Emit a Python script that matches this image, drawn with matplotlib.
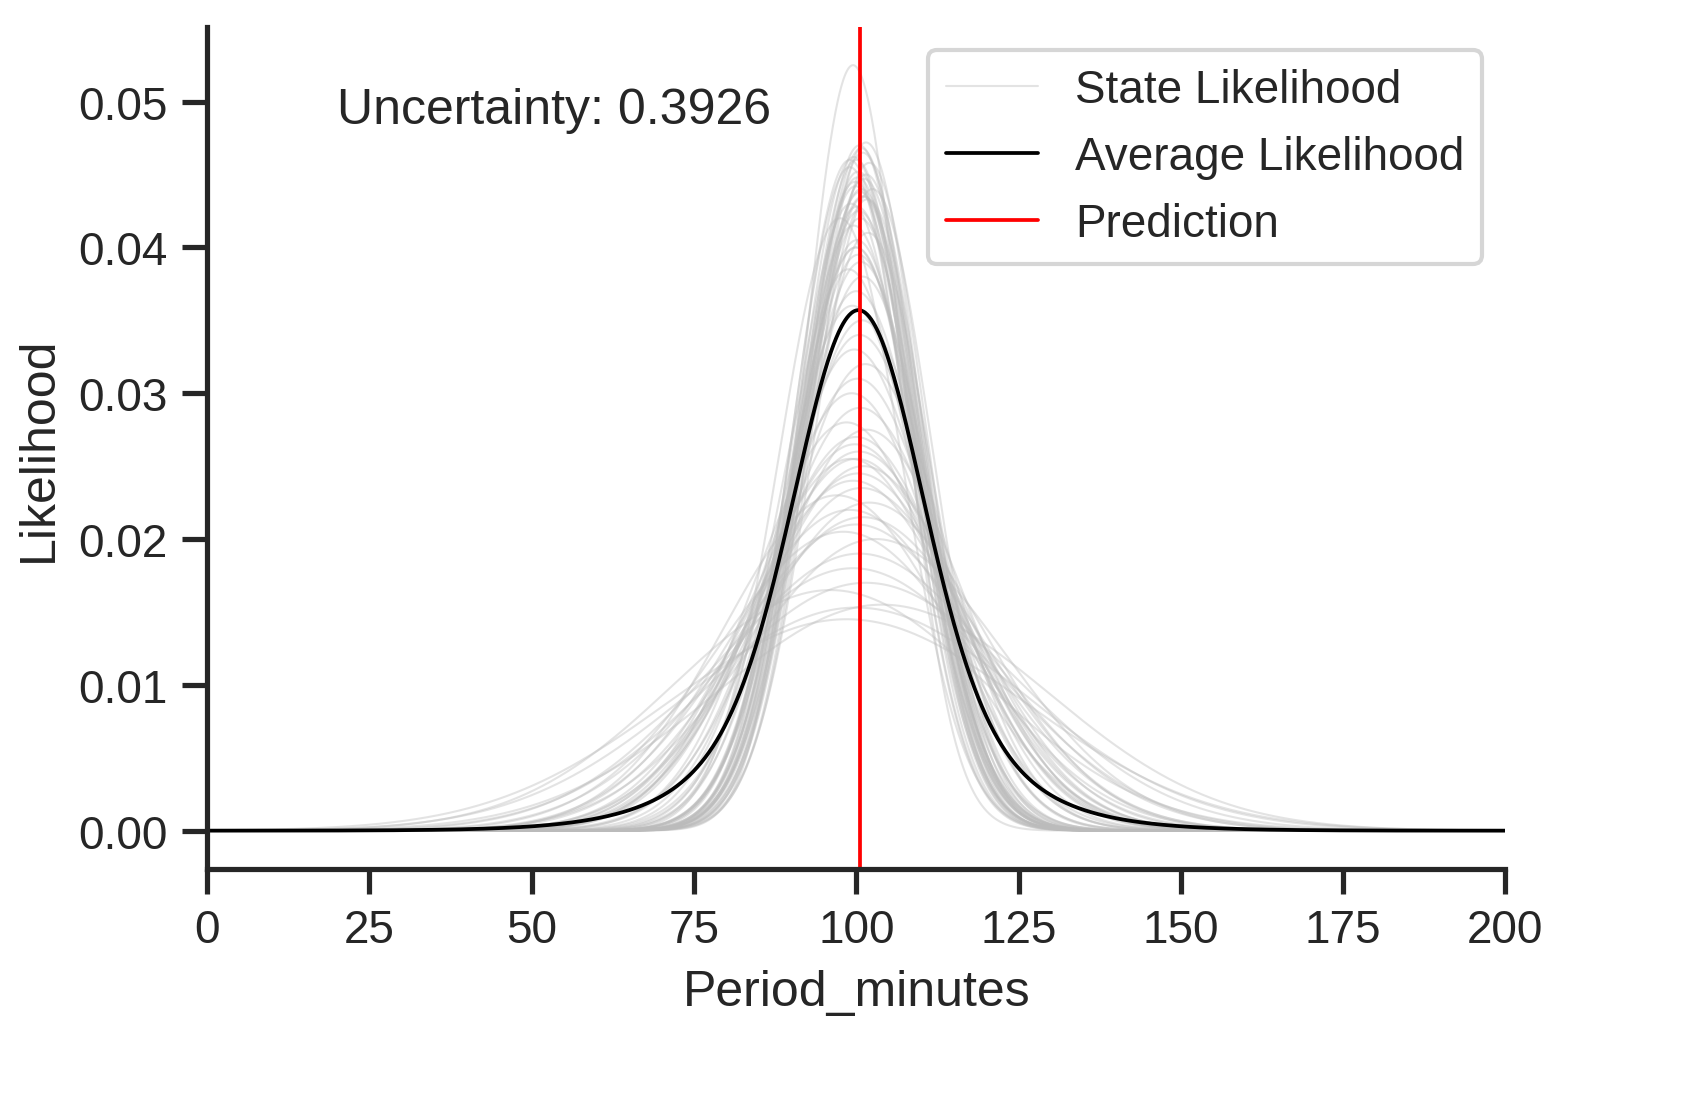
import numpy as np
import matplotlib
matplotlib.use("Agg")
import matplotlib.pyplot as plt
import seaborn as sns

sns.set_theme(style="ticks")
plt.rcParams['font.family'] = ['Liberation Sans', 'DejaVu Sans']

# State likelihood curves: (mean, peak height)
state_means = [99.5, 100.5, 101, 100, 99, 101.5, 100.2, 99.8, 100.8, 101.2,
               99.2, 100.4, 100.6, 99.6, 101.8, 100.1, 99.9, 100.3, 100.7, 98.8,
               101, 100, 99.4, 100.9, 100.5, 99.7, 101.4, 100.2, 99.3, 100.6,
               98.5, 101.6, 100, 99.8, 100.4, 99.1, 101.1, 100.3, 99.5, 100.8,
               97, 102, 99, 101, 100, 98, 103, 100.5, 99.5, 101.5,
               96, 104, 100, 98.5, 102.5, 97.5, 100, 99, 101, 100,
               101.5, 100.8, 99.6, 102, 100.3, 101.2, 99.9, 100.6, 101.7, 100.1]
state_peaks = [0.0525, 0.047, 0.0465, 0.046, 0.0455, 0.045, 0.0448, 0.0445, 0.044, 0.0435,
               0.043, 0.0425, 0.042, 0.0415, 0.041, 0.0405, 0.040, 0.0395, 0.039, 0.0385,
               0.038, 0.037, 0.036, 0.035, 0.034, 0.033, 0.032, 0.031, 0.030, 0.029,
               0.028, 0.0275, 0.027, 0.0265, 0.026, 0.0255, 0.025, 0.0245, 0.024, 0.0235,
               0.023, 0.0225, 0.022, 0.0215, 0.021, 0.0205, 0.020, 0.019, 0.018, 0.017,
               0.0165, 0.0155, 0.0153, 0.0145, 0.044, 0.042, 0.040, 0.046, 0.0435, 0.0255,
               0.0472, 0.0468, 0.0462, 0.0458, 0.0452, 0.0447, 0.0442, 0.0438, 0.0433, 0.0428]
prediction = 100.5
uncertainty = 0.3926

x = np.linspace(0, 200, 2001)
fig, ax = plt.subplots(figsize=(5.613, 3.703), dpi=300)
curves = []
for i, (m, p) in enumerate(zip(state_means, state_peaks)):
    s = 1 / (p * np.sqrt(2 * np.pi))
    y = p * np.exp(-0.5 * ((x - m) / s) ** 2)
    curves.append(y)
    ax.plot(x, y, color="#bbbbbb", alpha=0.4, lw=0.5,
            label="State Likelihood" if i == 0 else None)
avg = np.mean(curves, axis=0)
avg = avg * (0.0357 / avg.max())
ax.plot(x, avg, color="black", lw=0.9, label="Average Likelihood")
ax.axvline(prediction, color="red", lw=0.9, label="Prediction")
ax.set_xlim(0, 200)
ax.set_xticks(np.arange(0, 201, 25))
ax.set_yticks([0, 0.01, 0.02, 0.03, 0.04, 0.05])
ax.tick_params(labelsize=11)
ax.set_xlabel("Period_minutes", fontsize=12)
ax.set_ylabel("Likelihood", fontsize=12)
ax.text(20, 0.0485, f"Uncertainty: {uncertainty}", fontsize=12)
ax.legend(loc="upper right", fontsize=11)
sns.despine(ax=ax)
fig.subplots_adjust(left=0.123, right=0.894, top=0.975, bottom=0.217)
fig.savefig("out.png", dpi=300)
